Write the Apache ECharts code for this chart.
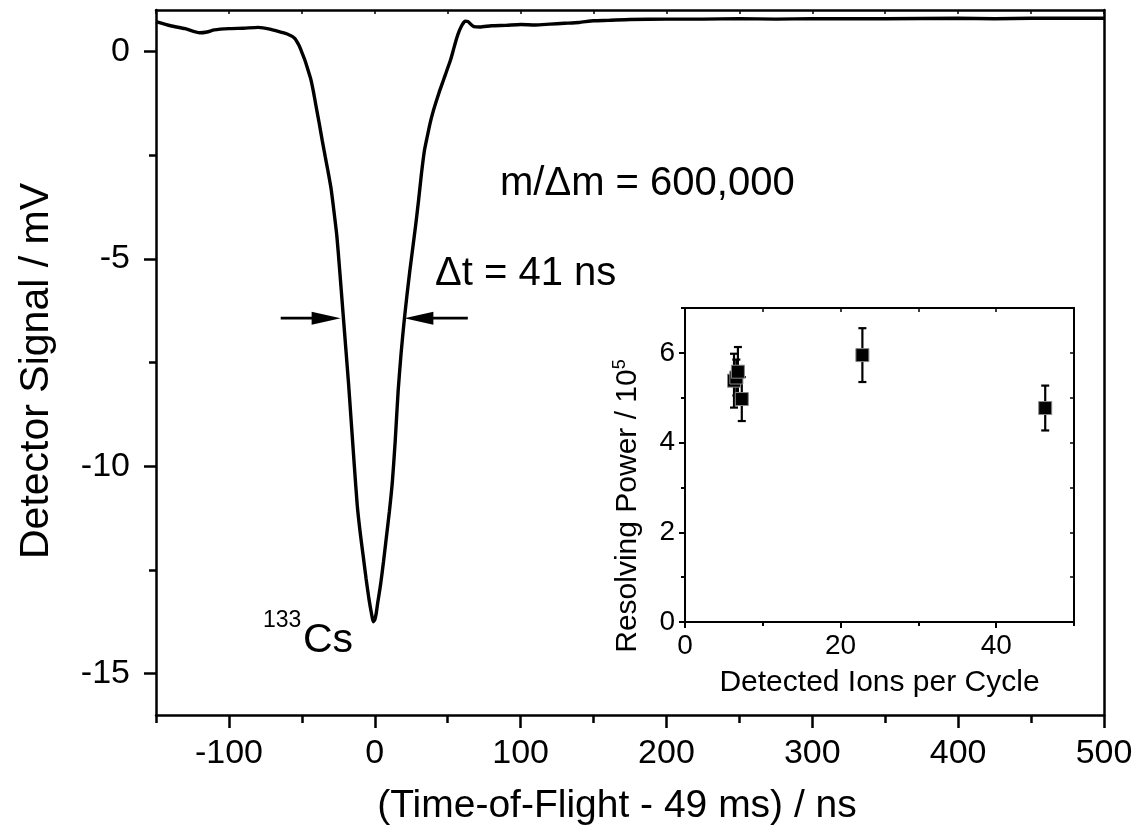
<!DOCTYPE html>
<html>
<head>
<meta charset="utf-8">
<script src="https://cdn.jsdelivr.net/npm/echarts@6/dist/echarts.min.js"></script>
<style>
  html, body { margin: 0; padding: 0; background: #fff; }
  #chart { width: 1139px; height: 837px; }
</style>
</head>
<body>
<div id="chart"></div>
<script>
// main trace: detector signal vs time-of-flight offset
const timeNs = [-150, -140, -130, -120, -115, -110, -100, -90, -80, -72, -65, -60, -55, -52, -50, -48, -46, -44, -42, -40,
  -38, -36, -34, -32, -30, -28, -26, -24, -22, -20, -18, -16, -14, -12, -10, -8, -6, -4, -2, -1,
  0, 1, 2, 4, 6, 8, 10, 12, 14, 16, 18, 20, 22, 24, 26, 28, 30, 32, 34, 36,
  38, 40, 42, 44, 46, 48, 50, 52, 54, 56, 58, 60, 62, 64, 66, 68, 72, 80, 90, 100,
  110, 120, 130, 140, 150, 160, 175, 200, 225, 250, 275, 300, 350, 400, 425, 450, 500];
const signalMv = [0.72, 0.62, 0.55, 0.45, 0.47, 0.52, 0.55, 0.56, 0.58, 0.54, 0.47, 0.42, 0.32, 0.15, -0.02, -0.2, -0.42, -0.65, -0.98, -1.37,
  -1.75, -2.15, -2.53, -2.9, -3.3, -3.85, -4.45, -5.3, -6.2, -7.1, -8.0, -9.0, -10.0, -10.95, -11.6, -12.15, -12.7, -13.2, -13.6, -13.75,
  -13.7, -13.55, -13.3, -12.85, -12.3, -11.7, -11.1, -10.4, -9.4, -8.2, -7.3, -6.55, -5.9, -5.3, -4.75, -4.2, -3.6, -2.95, -2.4, -2.05,
  -1.72, -1.45, -1.22, -1.0, -0.8, -0.6, -0.4, -0.2, 0.05, 0.3, 0.5, 0.65, 0.73, 0.72, 0.65, 0.6, 0.59, 0.62, 0.63, 0.65,
  0.64, 0.66, 0.68, 0.7, 0.74, 0.75, 0.77, 0.78, 0.78, 0.79, 0.78, 0.79, 0.79, 0.8, 0.79, 0.8, 0.8];

// FWHM arrows (tail and tip in ns, level in mV)
const arrowTailNs = [-64.5, 63.8];
const arrowTipNs = [-23.4, 20.3];
const arrowLevelMv = [-6.43, -6.43];

// inset: resolving power vs detected ions per cycle
const ionsPerCycle = [6.3, 6.6, 6.8, 7.3, 22.8, 46.3];
const resolvingPower = [5.38, 5.45, 5.58, 4.97, 5.95, 4.77];
const rpError = [0.6, 0.4, 0.55, 0.49, 0.6, 0.5];

// tick positions
const mainXMajor = [-100, 0, 100, 200, 300, 400, 500];
const mainXMinor = [-150, -50, 50, 150, 250, 350, 450];
const mainYMajor = [-15, -10, -5, 0];
const mainYMinor = [-12.5, -7.5, -2.5];
const insetXMajor = [0, 20, 40];
const insetXMinor = [10, 30, 50];
const insetYMajor = [0, 2, 4, 6];
const insetYMinor = [1, 3, 5, 7];

const FONT = '"Liberation Sans", Arial, sans-serif';
const black = '#000';

const mainGrid = { left: 156, top: 10, right: 35, bottom: 122 };
const insetGrid = { left: 685, top: 308, right: 65, bottom: 215 };

function axisLine(w) {
  return { show: true, onZero: false, lineStyle: { color: black, width: w } };
}
function lineStyle(w) {
  return { color: black, width: w };
}
const noLine = { show: false, onZero: false };

const chart = echarts.init(document.getElementById('chart'));

chart.setOption({
  backgroundColor: '#fff',
  animation: false,
  grid: [
    Object.assign({}, mainGrid),
    Object.assign({}, mainGrid),
    Object.assign({}, insetGrid),
    Object.assign({}, insetGrid)
  ],
  xAxis: [
    {
      gridIndex: 0, type: 'value', min: -150, max: 500, position: 'bottom',
      axisLine: axisLine(2.5),
      axisTick: { show: true, customValues: mainXMajor, length: 13, lineStyle: lineStyle(2.5) },
      axisLabel: { customValues: mainXMajor, fontSize: 34, fontFamily: FONT, color: black, margin: 22 },
      splitLine: { show: false },
      name: '(Time-of-Flight - 49 ms) / ns', nameLocation: 'middle', nameGap: 72,
      nameTextStyle: { fontSize: 39, fontFamily: FONT, color: black, padding: [0, 26, 0, 0] }
    },
    {
      gridIndex: 0, type: 'value', min: -150, max: 500, interval: 50, position: 'top',
      axisLine: axisLine(2.5),
      axisTick: { show: true, inside: true, length: 4, lineStyle: lineStyle(1.5) },
      axisLabel: { show: false }, splitLine: { show: false }
    },
    {
      gridIndex: 1, type: 'value', min: -150, max: 500, position: 'bottom',
      axisLine: noLine,
      axisTick: { show: true, customValues: mainXMinor, length: 8, lineStyle: lineStyle(2.5) },
      axisLabel: { show: false }, splitLine: { show: false }
    },
    {
      gridIndex: 2, type: 'value', min: 0, max: 50, position: 'bottom',
      axisLine: axisLine(2),
      axisTick: { show: true, customValues: insetXMajor, length: 6, lineStyle: lineStyle(2) },
      axisLabel: { customValues: insetXMajor, fontSize: 28, fontFamily: FONT, color: black, margin: 10 },
      splitLine: { show: false },
      name: 'Detected Ions per Cycle', nameLocation: 'middle', nameGap: 46,
      nameTextStyle: { fontSize: 30, fontFamily: FONT, color: black }
    },
    {
      gridIndex: 2, type: 'value', min: 0, max: 50, interval: 10, position: 'top',
      axisLine: axisLine(2),
      axisTick: { show: true, inside: true, length: 4, lineStyle: lineStyle(1.5) },
      axisLabel: { show: false }, splitLine: { show: false }
    },
    {
      gridIndex: 3, type: 'value', min: 0, max: 50, position: 'bottom',
      axisLine: noLine,
      axisTick: { show: true, customValues: insetXMinor, length: 4, lineStyle: lineStyle(2) },
      axisLabel: { show: false }, splitLine: { show: false }
    }
  ],
  yAxis: [
    {
      gridIndex: 0, type: 'value', min: -16, max: 1, position: 'left',
      axisLine: axisLine(2.5),
      axisTick: { show: true, customValues: mainYMajor, length: 12, lineStyle: lineStyle(2.5) },
      axisLabel: { customValues: mainYMajor, fontSize: 34, fontFamily: FONT, color: black, margin: 26 },
      splitLine: { show: false }
    },
    {
      gridIndex: 0, type: 'value', min: -16, max: 1, position: 'right',
      axisLine: axisLine(2.5),
      axisTick: { show: false }, axisLabel: { show: false }, splitLine: { show: false }
    },
    {
      gridIndex: 1, type: 'value', min: -16, max: 1, position: 'left',
      axisLine: noLine,
      axisTick: { show: true, customValues: mainYMinor, length: 7, lineStyle: lineStyle(2.5) },
      axisLabel: { show: false }, splitLine: { show: false }
    },
    {
      gridIndex: 2, type: 'value', min: 0, max: 7, position: 'left',
      axisLine: axisLine(2),
      axisTick: { show: true, customValues: insetYMajor, length: 6, lineStyle: lineStyle(2) },
      axisLabel: { customValues: insetYMajor, fontSize: 28, fontFamily: FONT, color: black, margin: 10 },
      splitLine: { show: false }
    },
    {
      gridIndex: 2, type: 'value', min: 0, max: 7, interval: 1, position: 'right',
      axisLine: axisLine(2),
      axisTick: { show: true, inside: true, length: 4, lineStyle: lineStyle(1.5) },
      axisLabel: { show: false }, splitLine: { show: false }
    },
    {
      gridIndex: 3, type: 'value', min: 0, max: 7, position: 'left',
      axisLine: noLine,
      axisTick: { show: true, customValues: insetYMinor, length: 4, lineStyle: lineStyle(2) },
      axisLabel: { show: false }, splitLine: { show: false }
    }
  ],
  graphic: [
    {
      type: 'text', x: 37, y: 371, rotation: Math.PI / 2, z: 10,
      style: { text: 'Detector Signal / mV', font: '41px ' + FONT, fill: black, align: 'center', verticalAlign: 'middle' }
    },
    {
      type: 'text', left: 500, top: 164, z: 10,
      style: { text: 'm/\u0394m = 600,000', font: '40px ' + FONT, fill: black }
    },
    {
      type: 'text', left: 435, top: 254, z: 10,
      style: { text: '\u0394t = 41 ns', font: '40px ' + FONT, fill: black }
    },
    {
      type: 'text', left: 263, top: 609, z: 10,
      style: { text: '133', font: '23px ' + FONT, fill: black }
    },
    {
      type: 'text', left: 303, top: 620, z: 10,
      style: { text: 'Cs', font: '41px ' + FONT, fill: black }
    },
    {
      type: 'text', x: 628, y: 506, rotation: Math.PI / 2, z: 10,
      style: {
        text: 'Resolving Power / 10{sup|5}',
        font: '30px ' + FONT, fill: black, align: 'center', verticalAlign: 'middle',
        rich: { sup: { fontSize: 18, fontFamily: FONT, fill: black, padding: [0, 0, 16, 0] } }
      }
    }
  ],
  series: [
    {
      type: 'line', xAxisIndex: 0, yAxisIndex: 0,
      data: timeNs.map((t, i) => [t, signalMv[i]]),
      showSymbol: false, smooth: 0.2,
      lineStyle: { color: black, width: 3.4 }
    },
    {
      // half-maximum arrows
      type: 'custom', xAxisIndex: 0, yAxisIndex: 0,
      data: arrowTailNs.map((t, i) => [t, arrowTipNs[i], arrowLevelMv[i]]),
      renderItem: function (params, api) {
        const tail = api.coord([api.value(0), api.value(2)]);
        const tip = api.coord([api.value(1), api.value(2)]);
        const dir = tip[0] > tail[0] ? 1 : -1;
        const headLen = 29, headHalf = 6.5;
        const baseX = tip[0] - dir * headLen;
        return {
          type: 'group',
          children: [
            { type: 'line', shape: { x1: tail[0], y1: tail[1], x2: baseX + dir * 2, y2: tip[1] },
              style: { stroke: black, lineWidth: 2.8 } },
            { type: 'polygon', shape: { points: [[tip[0], tip[1]], [baseX, tip[1] - headHalf], [baseX, tip[1] + headHalf]] },
              style: { fill: black } }
          ]
        };
      },
      z: 5
    },
    {
      type: 'custom', xAxisIndex: 3, yAxisIndex: 3,
      data: ionsPerCycle.map((x, i) => [x, resolvingPower[i], rpError[i]]),
      renderItem: function (params, api) {
        const x = api.value(0), y = api.value(1), e = api.value(2);
        const top = api.coord([x, y + e]);
        const bot = api.coord([x, y - e]);
        const st = { stroke: black, lineWidth: 2.2 };
        return {
          type: 'group',
          children: [
            { type: 'line', shape: { x1: top[0], y1: top[1], x2: bot[0], y2: bot[1] }, style: st },
            { type: 'line', shape: { x1: top[0] - 4, y1: top[1], x2: top[0] + 4, y2: top[1] }, style: st },
            { type: 'line', shape: { x1: bot[0] - 4, y1: bot[1], x2: bot[0] + 4, y2: bot[1] }, style: st }
          ]
        };
      },
      z: 3
    },
    {
      type: 'scatter', xAxisIndex: 3, yAxisIndex: 3,
      data: ionsPerCycle.map((x, i) => [x, resolvingPower[i]]),
      symbol: 'rect', symbolSize: 13,
      itemStyle: { color: black, borderColor: '#888', borderWidth: 1, opacity: 1 },
      z: 4
    }
  ]
});
</script>
</body>
</html>
